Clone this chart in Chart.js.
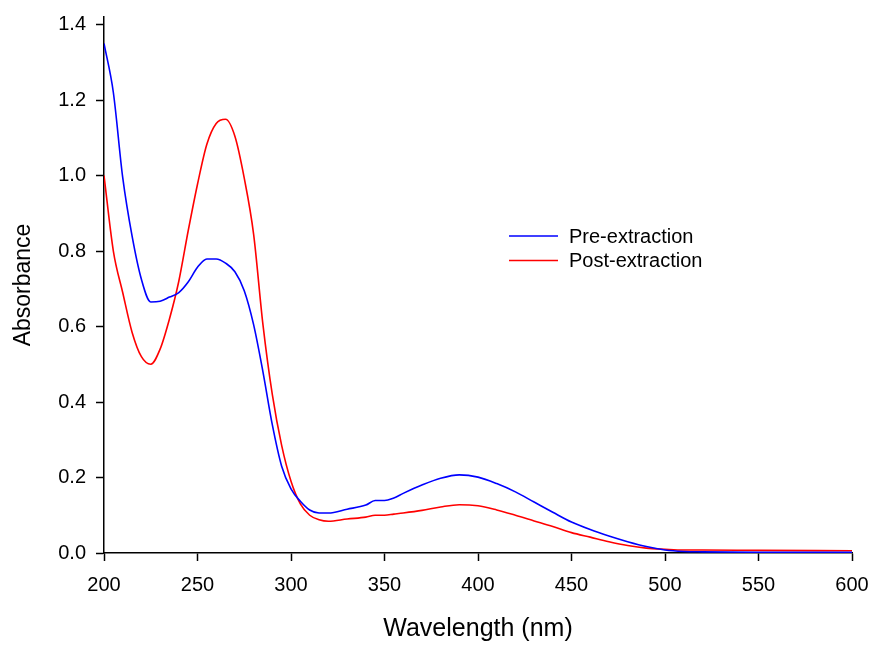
<!DOCTYPE html>
<html>
<head>
<meta charset="utf-8">
<script src="https://cdn.jsdelivr.net/npm/chart.js@4/dist/chart.umd.min.js"></script>
<style>
  html, body { margin: 0; padding: 0; background: #fff; }
  #wrap { width: 873px; height: 646px; }
</style>
</head>
<body>
<div id="wrap"><canvas id="c" width="873" height="646"></canvas></div>
<script>
const wavelengths = [200,205,210,215,220,225,230,235,240,245,250,255,260,265,270,275,280,285,290,295,300,305,310,315,320,330,340,345,350,355,360,370,380,390,400,410,420,430,440,450,460,470,480,490,500,510,520,550,600];
const preExtraction = [1.35,1.22,0.995,0.84,0.725,0.665,0.667,0.678,0.69,0.718,0.757,0.779,0.779,0.768,0.745,0.695,0.605,0.48,0.34,0.23,0.17,0.137,0.114,0.106,0.106,0.116,0.127,0.139,0.139,0.146,0.158,0.18,0.198,0.207,0.201,0.184,0.162,0.135,0.108,0.082,0.062,0.045,0.03,0.017,0.008,0.004,0.003,0.002,0.002];
const postExtraction = [1.0,0.80,0.69,0.585,0.52,0.50,0.54,0.62,0.72,0.853,0.977,1.083,1.138,1.149,1.104,0.993,0.845,0.605,0.42,0.285,0.19,0.13,0.1,0.088,0.084,0.09,0.095,0.1,0.1,0.103,0.106,0.113,0.122,0.128,0.125,0.114,0.1,0.085,0.07,0.054,0.042,0.03,0.02,0.013,0.01,0.008,0.008,0.007,0.006];
const seriesNames = ['Pre-extraction', 'Post-extraction'];
const xTicks = [200,250,300,350,400,450,500,550,600];
const yTicks = [0,0.2,0.4,0.6,0.8,1.0,1.2,1.4];

const FONT = '"Liberation Sans", Arial, sans-serif';
const toPts = vals => wavelengths.map((w, i) => ({x: w, y: vals[i]}));

const legendPlugin = {
  id: 'inlineLegend',
  afterDatasetsDraw(chart) {
    const ctx = chart.ctx;
    ctx.save();
    ctx.font = '20px ' + FONT;
    ctx.textBaseline = 'middle';
    chart.data.datasets.forEach((ds, i) => {
      const y = 236 + i * 24.5;
      ctx.strokeStyle = ds.borderColor;
      ctx.lineWidth = 1.5;
      ctx.beginPath();
      ctx.moveTo(509, y);
      ctx.lineTo(558, y);
      ctx.stroke();
      ctx.fillStyle = '#000';
      ctx.fillText(ds.label, 569, y + 1);
    });
    ctx.restore();
  }
};

new Chart(document.getElementById('c'), {
  type: 'line',
  data: {
    datasets: [
      { label: seriesNames[0], data: toPts(preExtraction), borderColor: '#0000ff', borderWidth: 1.6, pointRadius: 0, cubicInterpolationMode: 'monotone', fill: false },
      { label: seriesNames[1], data: toPts(postExtraction), borderColor: '#ff0000', borderWidth: 1.6, pointRadius: 0, cubicInterpolationMode: 'monotone', fill: false }
    ]
  },
  options: {
    responsive: false,
    animation: false,
    devicePixelRatio: 1,
    layout: { padding: { left: 0, right: 21, top: 17, bottom: 0 } },
    plugins: { legend: { display: false }, tooltip: { enabled: false } },
    scales: {
      x: {
        type: 'linear', min: 200, max: 600,
        afterBuildTicks: s => { s.ticks = xTicks.map(v => ({value: v})); },
        afterFit: s => { s.height = 93; s.paddingLeft = 0; s.paddingRight = 0; },
        grid: { drawOnChartArea: false, drawTicks: true, tickLength: 8, color: '#000', tickWidth: 1.5 },
        border: { display: true, color: '#000', width: 1.5 },
        ticks: { color: '#000', font: { family: FONT, size: 20 }, padding: 12, maxRotation: 0 },
        title: { display: true, text: 'Wavelength (nm)', color: '#000', font: { family: FONT, size: 25 }, padding: { top: 0, bottom: 2 } }
      },
      y: {
        type: 'linear', min: 0, max: 1.42,
        afterBuildTicks: s => { s.ticks = yTicks.map(v => ({value: v})); },
        afterFit: s => { s.width = 104; s.paddingTop = 0; s.paddingBottom = 0; },
        grid: { drawOnChartArea: false, drawTicks: true, tickLength: 8, color: '#000', tickWidth: 1.5 },
        border: { display: true, color: '#000', width: 1.5 },
        ticks: { color: '#000', font: { family: FONT, size: 20 }, padding: 10, callback: v => v.toFixed(1) },
        title: { display: true, text: 'Absorbance', color: '#000', font: { family: FONT, size: 23 }, padding: { top: 10, bottom: 0 } }
      }
    }
  },
  plugins: [legendPlugin]
});
</script>
</body>
</html>
